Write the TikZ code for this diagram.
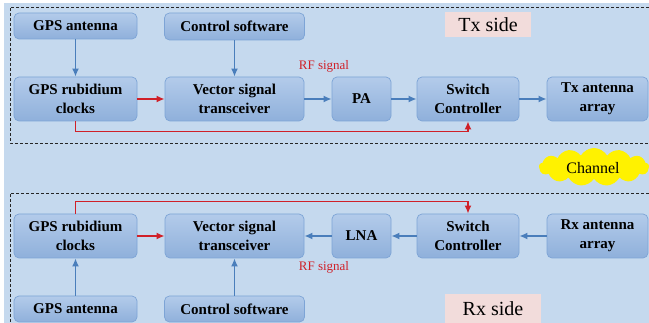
\documentclass[tikz,border=0pt]{standalone}
\usepackage{fontspec}
\setmainfont{Liberation Serif}
\usetikzlibrary{arrows.meta,shapes.symbols}
\definecolor{bgblue}{HTML}{C5D9EE}
\definecolor{nodetop}{HTML}{B3CBEA}
\definecolor{nodebot}{HTML}{8FB0DB}
\definecolor{nodeline}{HTML}{7DA4D6}
\definecolor{lineblue}{HTML}{4A7EBB}
\definecolor{linered}{HTML}{D02028}
\definecolor{pinkbox}{HTML}{F2DCDB}
\definecolor{cloudyellow}{HTML}{FFF200}
\tikzset{
  blk/.style={rounded corners=5pt, top color=nodetop, bottom color=nodebot, draw=nodeline, line width=0.7pt,
    align=center, inner sep=0pt, font=\fontsize{15}{19}\selectfont\bfseries},
  bluearr/.style={draw=lineblue, line width=1.6pt, -{Latex[length=8pt,width=7pt]}},
  redarr/.style={draw=linered, line width=1.6pt, -{Latex[length=8pt,width=7pt]}},
  dashbox/.style={draw=black!85, line width=0.9pt, dash pattern=on 3pt off 2pt},
  rflabel/.style={text=linered, font=\fontsize{13}{15}\selectfont},
  sidelabel/.style={fill=pinkbox, inner sep=0pt, font=\fontsize{20}{22}\selectfont}
}
\begin{document}
\begin{tikzpicture}[x=1pt,y=-1pt]
\useasboundingbox (0,0) rectangle (649,323);
\fill[bgblue] (4,3) rectangle (649,323);
% dashed frames
\draw[dashbox] (649,7) -- (10,7) -- (10,143) -- (649,143);
\draw[dashbox] (649,193) -- (10,193) -- (10,323);
% Tx side
\node[blk, minimum width=123pt, minimum height=26pt] (gpsT) at (75.5,26) {GPS antenna};
\node[blk, minimum width=140pt, minimum height=27pt] (ctrlT) at (234.5,26.5) {Control software};
\node[blk, minimum width=123pt, minimum height=44pt] (clkT) at (75.5,99) {GPS rubidium\\clocks};
\node[blk, minimum width=139pt, minimum height=44pt] (vstT) at (234.5,99) {Vector signal\\transceiver};
\node[blk, minimum width=59pt, minimum height=44pt] (pa) at (361.5,99) {PA};
\node[blk, minimum width=102pt, minimum height=44pt] (swT) at (468,99) {Switch\\Controller};
\node[blk, minimum width=101pt, minimum height=44pt] (txa) at (597.5,99) {Tx antenna\\array};
\node[rflabel] (rfT) at (324,66) {RF signal};
\node[sidelabel, minimum width=86pt, minimum height=25pt] (txside) at (488,24.5) {Tx side};
\draw[bluearr] (gpsT) -- (clkT);
\draw[bluearr] (ctrlT) -- (vstT);
\draw[redarr] (clkT) -- (vstT);
\draw[bluearr] (vstT) -- (pa);
\draw[bluearr] (pa) -- (swT);
\draw[bluearr] (swT) -- (txa);
\draw[redarr] (clkT.south) -- ++(0,10) -| (swT.south);
% Channel
\node[cloud, cloud puffs=13, cloud puff arc=120, aspect=3.2, fill=cloudyellow, minimum width=110pt, minimum height=38pt, inner sep=0pt] (chan) at (594,167) {};
\node[font=\fontsize{16}{18}\selectfont] (chantext) at (593,168) {Channel};
% Rx side
\node[blk, minimum width=123pt, minimum height=44pt] (clkR) at (75.5,236) {GPS rubidium\\clocks};
\node[blk, minimum width=139pt, minimum height=44pt] (vstR) at (234.5,236) {Vector signal\\transceiver};
\node[blk, minimum width=59pt, minimum height=44pt] (lna) at (361.5,236) {LNA};
\node[blk, minimum width=102pt, minimum height=44pt] (swR) at (468,236) {Switch\\Controller};
\node[blk, minimum width=101pt, minimum height=44pt] (rxa) at (597.5,236) {Rx antenna\\array};
\node[blk, minimum width=123pt, minimum height=26pt] (gpsR) at (75.5,309) {GPS antenna};
\node[blk, minimum width=140pt, minimum height=26pt] (ctrlR) at (234.5,309) {Control software};
\node[rflabel] (rfR) at (324,267) {RF signal};
\node[sidelabel, minimum width=96pt, minimum height=29pt] (rxside) at (493,308.5) {Rx side};
\draw[bluearr] (gpsR) -- (clkR);
\draw[bluearr] (ctrlR) -- (vstR);
\draw[redarr] (clkR) -- (vstR);
\draw[bluearr] (lna) -- (vstR);
\draw[bluearr] (swR) -- (lna);
\draw[bluearr] (rxa) -- (swR);
\draw[redarr] (clkR.north) -- ++(0,-12) -| (swR.north);
\end{tikzpicture}
\end{document}
